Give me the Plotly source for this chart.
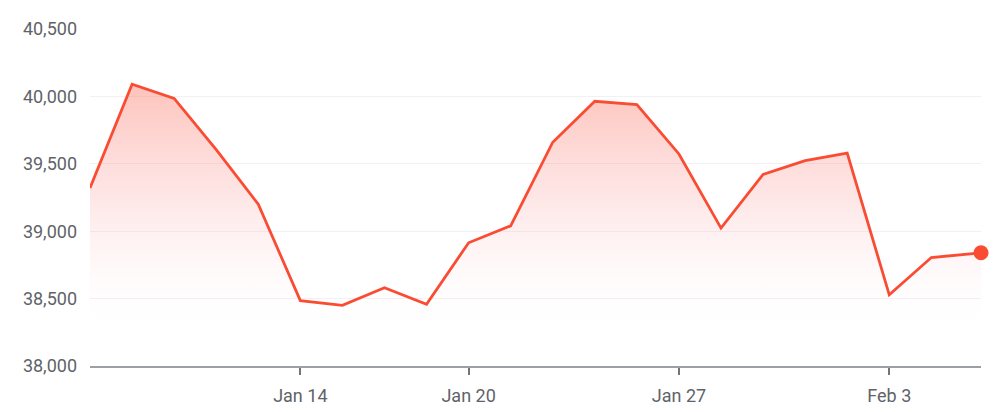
import plotly.graph_objects as go

LINE_COLOR = "#f94c33"
TEXT_COLOR = "#5f6368"
GRID_COLOR = "#f1f1f4"

# trading days shown on the chart (last one is the live quote)
dates = [
    "2025-01-06", "2025-01-07", "2025-01-08", "2025-01-09", "2025-01-10",
    "2025-01-14", "2025-01-15", "2025-01-16", "2025-01-17", "2025-01-20",
    "2025-01-21", "2025-01-22", "2025-01-23", "2025-01-24", "2025-01-27",
    "2025-01-28", "2025-01-29", "2025-01-30", "2025-01-31", "2025-02-03",
    "2025-02-04", "2025-02-05 04:20",
]
prices = [
    39320, 40090, 39985, 39605, 39200,
    38485, 38450, 38580, 38458, 38914,
    39040, 39660, 39964, 39940, 39573,
    39023, 39421, 39523, 39580, 38528,
    38805, 38840,
]
tick_dates = ["2025-01-14", "2025-01-20", "2025-01-27", "2025-02-03"]
y_ticks = [38000, 38500, 39000, 39500, 40000, 40500]

fig = go.Figure()

# price line with gradient area underneath
fig.add_trace(go.Scatter(
    x=dates, y=prices, mode="lines",
    line=dict(color=LINE_COLOR, width=2.8),
    fill="tozeroy",
    fillgradient=dict(
        type="vertical", start=38300, stop=40100,
        colorscale=[[0, "rgba(255,230,238,0)"],
                    [0.5, "rgba(251,150,150,0.22)"],
                    [1, "rgba(250,95,75,0.38)"]],
    ),
    hoverinfo="x+y", showlegend=False,
))

# dot on the latest value
fig.add_trace(go.Scatter(
    x=dates[-1:], y=prices[-1:], mode="markers",
    marker=dict(color=LINE_COLOR, size=15),
    cliponaxis=False, showlegend=False,
))

# page body has an 8px margin, so the figure is a bit smaller than the window
fig.update_layout(
    width=998, height=404,
    margin=dict(l=82, r=25, t=21, b=46),
    paper_bgcolor="white", plot_bgcolor="white",
    font=dict(family="Roboto", size=18, color=TEXT_COLOR),
)

fig.update_xaxes(
    type="date", automargin=False,
    range=[dates[0], dates[-1]],
    rangebreaks=[dict(bounds=["sat", "mon"]), dict(values=["2025-01-13"])],
    tickvals=tick_dates, tickformat="%b %-d",
    ticks="outside", ticklen=7, tickwidth=2, tickcolor="#70757a",
    showline=True, linecolor="#9aa0a6", linewidth=1.5,
    showgrid=False, zeroline=False,
    ticklabelstandoff=6,
    tickfont=dict(size=18, color=TEXT_COLOR),
)

fig.update_yaxes(
    automargin=False,
    range=[38000, 40500],
    tickvals=y_ticks, tickformat=",",
    showgrid=True, gridcolor=GRID_COLOR, gridwidth=1,
    zeroline=False, showline=False,
    ticklabelstandoff=12,
    tickfont=dict(size=18, color=TEXT_COLOR),
)

fig.write_html("out.html")
